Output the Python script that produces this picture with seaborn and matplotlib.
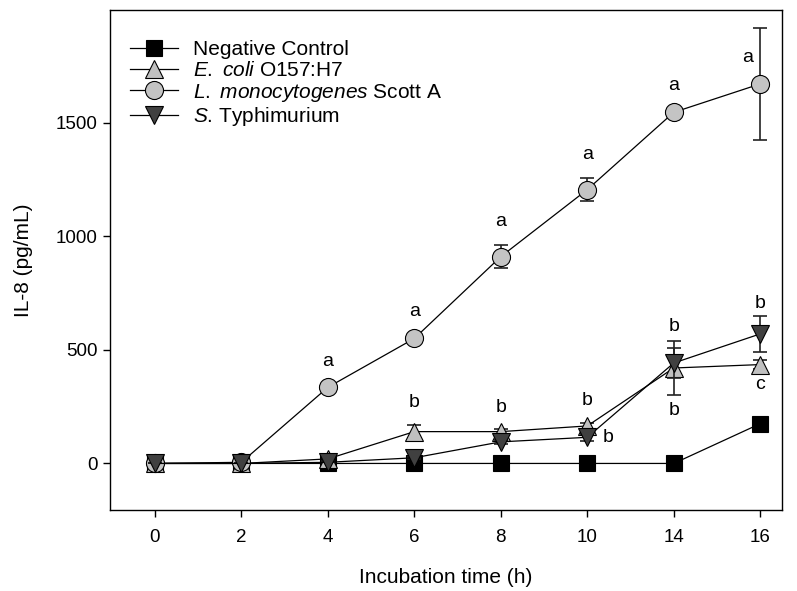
import matplotlib
matplotlib.use("Agg")
import matplotlib.pyplot as plt
import seaborn as sns
import pandas as pd

# data
times = ["0", "2", "4", "6", "8", "10", "14", "16"]
series = ["Negative Control", "E. coli O157:H7", "L. monocytogenes Scott A", "S. Typhimurium"]
legend_labels = ["Negative Control",
                 r"$\mathit{E.}$ $\mathit{coli}$ O157:H7",
                 r"$\mathit{L.}$ $\mathit{monocytogenes}$ Scott A",
                 r"$\mathit{S}$. Typhimurium"]
neg_ctrl = [0, 0, 0, 0, 0, 0, 0, 175]
neg_err = [0, 0, 0, 0, 0, 0, 0, 0]
ecoli = [0, 0, 20, 140, 140, 165, 420, 435]
ecoli_err = [0, 0, 10, 30, 10, 15, 120, 20]
listeria = [0, 5, 335, 550, 910, 1205, 1545, 1670]
listeria_err = [0, 0, 10, 15, 50, 50, 15, 245]
salmonella = [0, 0, 5, 25, 95, 115, 442, 570]
salmonella_err = [0, 0, 0, 5, 10, 15, 68, 80]

# significance letters
letters_a = ["a", "a", "a", "a", "a", "a"]
letters_a_idx = [2, 3, 4, 5, 6, 7]
letters_ecoli = ["b", "b", "b", "b", "c"]
letters_ecoli_idx = [3, 4, 5, 6, 7]
letters_salm = ["b", "b", "b"]
letters_salm_idx = [5, 6, 7]

plt.rcParams["font.family"] = ["Liberation Sans", "DejaVu Sans"]
plt.rcParams["mathtext.fontset"] = "custom"
plt.rcParams["mathtext.rm"] = "Liberation Sans"
plt.rcParams["mathtext.it"] = "Liberation Sans:italic"

pos = list(range(len(times)))
values = [neg_ctrl, ecoli, listeria, salmonella]
errors = [neg_err, ecoli_err, listeria_err, salmonella_err]
markers = ["s", "^", "o", "v"]
msizes = [12, 13, 13, 13]
faces = ["#000000", "#c0c0c0", "#c4c4c4", "#404040"]

fig = plt.figure(figsize=(7.97, 5.91), dpi=100)
ax = fig.add_axes([0.138, 0.137, 0.843, 0.846])

for i, name in enumerate(series):
    df = pd.DataFrame({"pos": pos, "val": values[i]})
    ax.errorbar(df["pos"], df["val"], yerr=errors[i], fmt="none", ecolor="#222222",
                elinewidth=1.2, capsize=5, capthick=1.2, zorder=2 + i)
    sns.lineplot(data=df, x="pos", y="val", ax=ax, color="black", linewidth=0.9,
                 marker=markers[i], markersize=msizes[i], markerfacecolor=faces[i],
                 markeredgecolor="black", markeredgewidth=0.8,
                 label=legend_labels[i], zorder=3 + i)

fs_let = 14
# letters above L. monocytogenes
for t, idx in zip(letters_a, letters_a_idx):
    if idx == 7:
        ax.annotate(t, (idx, listeria[idx]), xytext=(-9, 19), textcoords="offset points",
                    ha="center", va="center", fontsize=fs_let)
    else:
        ax.annotate(t, (idx, listeria[idx] + listeria_err[idx]), xytext=(0, 17),
                    textcoords="offset points", ha="center", va="center", fontsize=fs_let)
# letters for E. coli (above, except 14 and 16 below)
for t, idx in zip(letters_ecoli, letters_ecoli_idx):
    if idx >= 6:
        ax.annotate(t, (idx, ecoli[idx] - ecoli_err[idx]), xytext=(0, -11),
                    textcoords="offset points", ha="center", va="center", fontsize=fs_let)
    else:
        ax.annotate(t, (idx, ecoli[idx] + ecoli_err[idx]), xytext=(0, 16),
                    textcoords="offset points", ha="center", va="center", fontsize=fs_let)
# letters for S. Typhimurium
for t, idx in zip(letters_salm, letters_salm_idx):
    if idx == 5:
        ax.annotate(t, (idx, salmonella[idx]), xytext=(15, 0),
                    textcoords="offset points", ha="center", va="center", fontsize=fs_let)
    elif idx == 6:
        ax.annotate(t, (idx, ecoli[idx] + ecoli_err[idx]), xytext=(0, 10),
                    textcoords="offset points", ha="center", va="center", fontsize=fs_let)
    else:
        ax.annotate(t, (idx, salmonella[idx] + salmonella_err[idx]), xytext=(0, 9),
                    textcoords="offset points", ha="center", va="center", fontsize=fs_let)

ax.set_xlim(-0.52, 7.25)
ax.set_ylim(-205, 1995)
ax.set_xticks(pos)
ax.set_xticklabels(times)
ax.set_yticks([0, 500, 1000, 1500])
ax.tick_params(direction="out", length=5, width=1, labelsize=13.5)
ax.tick_params(axis="x", pad=8.5)
ax.tick_params(axis="y", pad=4)
for s in ax.spines.values():
    s.set_linewidth(1.0)
ax.set_xlabel("Incubation time (h)", fontsize=15, labelpad=16)
ax.set_ylabel("IL-8 (pg/mL)", fontsize=15, labelpad=16)

ax.legend(loc="upper left", bbox_to_anchor=(0.018, 0.956), borderaxespad=0, frameon=False,
          fontsize=15, handlelength=2.3, handletextpad=0.72, labelspacing=0.08)

fig.savefig("out.png", dpi=100)
